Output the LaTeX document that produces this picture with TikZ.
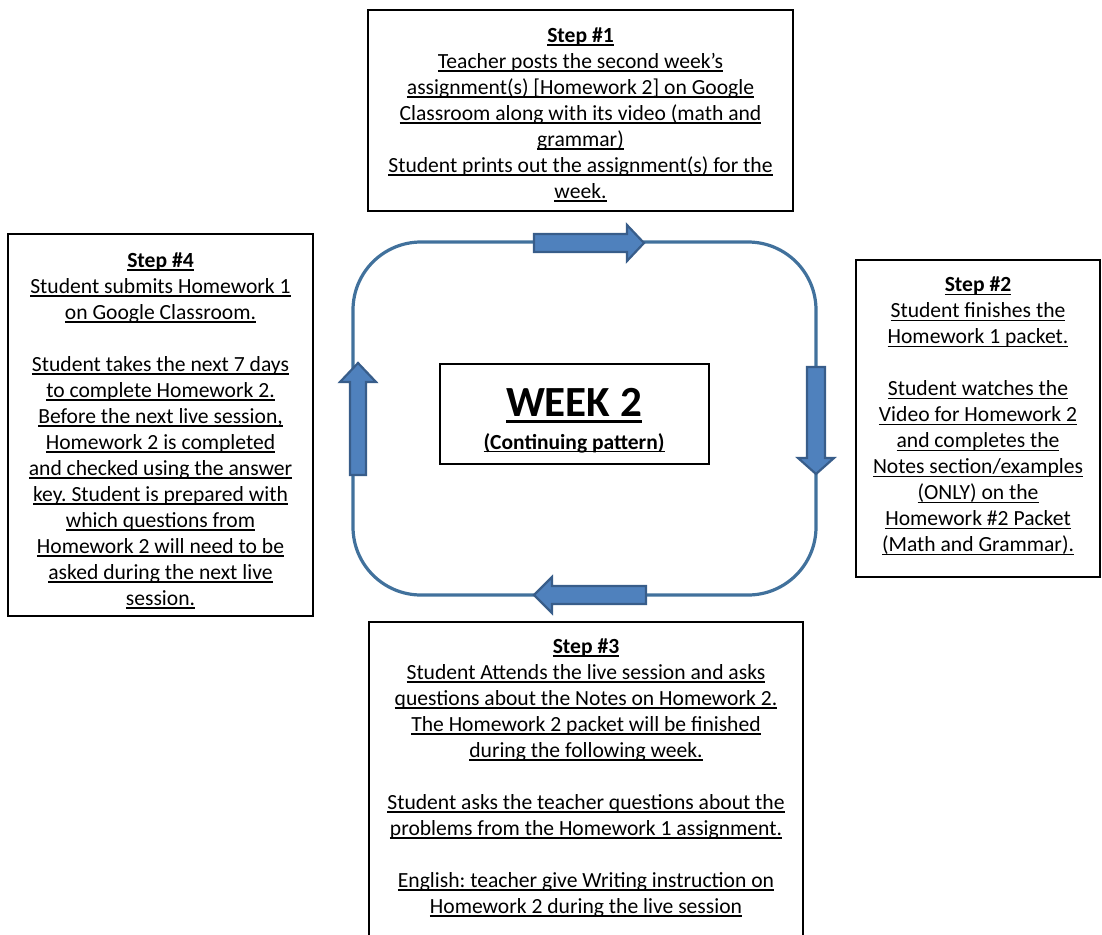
\documentclass[tikz,border=0pt]{standalone}
\usepackage{fontspec}
\setmainfont{Carlito}
\definecolor{loopblue}{HTML}{41719C}
\definecolor{arrfill}{HTML}{4F81BD}
\definecolor{arrdraw}{HTML}{385D8A}
\newcommand\ulx[1]{\setbox0\hbox{#1}\rlap{\rule[-3.3pt]{\wd0}{1.4pt}}\box0}
\frenchspacing
\begin{document}
\begin{tikzpicture}[x=1pt,y=-1pt,
  stepbox/.style={draw=black,line width=1.4pt},
  steptext/.style={anchor=north,align=center,inner sep=0pt,font=\fontsize{21.6}{26}\selectfont\frenchspacing},
  loopline/.style={draw=loopblue,line width=3.2pt},
  blockarrow/.style={fill=arrfill,draw=arrdraw,line width=2.2pt,line join=miter}]
\useasboundingbox (0,0) rectangle (1102,934);
% boxes
\draw[stepbox] (368,10) rectangle (793,211);
\draw[stepbox] (8,234) rectangle (313,616);
\draw[stepbox] (856,260) rectangle (1100,577);
\draw[stepbox] (369,622) rectangle (803,940);
\draw[stepbox] (440,364) rectangle (709,464);
% loop
\draw[loopline,rounded corners=68pt] (353,242) rectangle (816,595);
% arrows
\draw[blockarrow] (534,234)--(627,234)--(627,225)--(644,243)--(627,261)--(627,252)--(534,252)--cycle;
\draw[blockarrow] (807,367)--(825,367)--(825,458)--(834,458)--(816,474)--(798,458)--(807,458)--cycle;
\draw[blockarrow] (350,475)--(366,475)--(366,382)--(376,382)--(358,363)--(340,382)--(350,382)--cycle;
\draw[blockarrow] (646,586)--(552,586)--(552,577)--(534,595)--(552,613)--(552,604)--(646,604)--cycle;
% texts
\node[steptext] (s1) at (580.5,24) {\strut\ulx{\textbf{Step \#1}}\\
\ulx{Teacher posts the second week’s}\\
\ulx{assignment(s) [Homework 2] on Google}\\
\ulx{Classroom along with its video (math and}\\
\ulx{grammar)}\\
\ulx{Student prints out the assignment(s) for the}\\
\ulx{week.}};
\node[steptext] (s4) at (160.5,249) {\strut\ulx{\textbf{Step \#4}}\\
\ulx{Student submits Homework 1}\\
\ulx{on Google Classroom.}\\
\mbox{}\\
\ulx{Student takes the next 7 days}\\
\ulx{to complete Homework 2.}\\
\ulx{Before the next live session,}\\
\ulx{Homework 2 is completed}\\
\ulx{and checked using the answer}\\
\ulx{key. Student is prepared with}\\
\ulx{which questions from}\\
\ulx{Homework 2 will need to be}\\
\ulx{asked during the next live}\\
\ulx{session.}};
\node[steptext] (s2) at (978,273.3) {\strut\ulx{\textbf{Step \#2}}\\
\ulx{Student finishes the}\\
\ulx{Homework 1 packet.}\\
\mbox{}\\
\ulx{Student watches the}\\
\ulx{Video for Homework 2}\\
\ulx{and completes the}\\
\ulx{Notes section/examples}\\
\ulx{(ONLY) on the}\\
\ulx{Homework \#2 Packet}\\
\ulx{(Math and Grammar).}};
\node[steptext] (s3) at (586,635) {\strut\ulx{\textbf{Step \#3}}\\
\ulx{Student Attends the live session and asks}\\
\ulx{questions about the Notes on Homework 2.}\\
\ulx{The Homework 2 packet will be finished}\\
\ulx{during the following week.}\\
\mbox{}\\
\ulx{Student asks the teacher questions about the}\\
\ulx{problems from the Homework 1 assignment.}\\
\mbox{}\\
\ulx{English: teacher give Writing instruction on}\\
\ulx{Homework 2 during the live session}};
\node[anchor=base,inner sep=0pt,font=\fontsize{43}{48}\selectfont\bfseries] (wk) at (574,416) {\setbox0\hbox{WEEK 2}\rlap{\rule[-7pt]{\wd0}{2.6pt}}\box0};
\node[anchor=base,inner sep=0pt,font=\fontsize{21.5}{26}\selectfont\bfseries] (cp) at (574,449) {\ulx{(Continuing pattern)}};
\end{tikzpicture}
\end{document}
